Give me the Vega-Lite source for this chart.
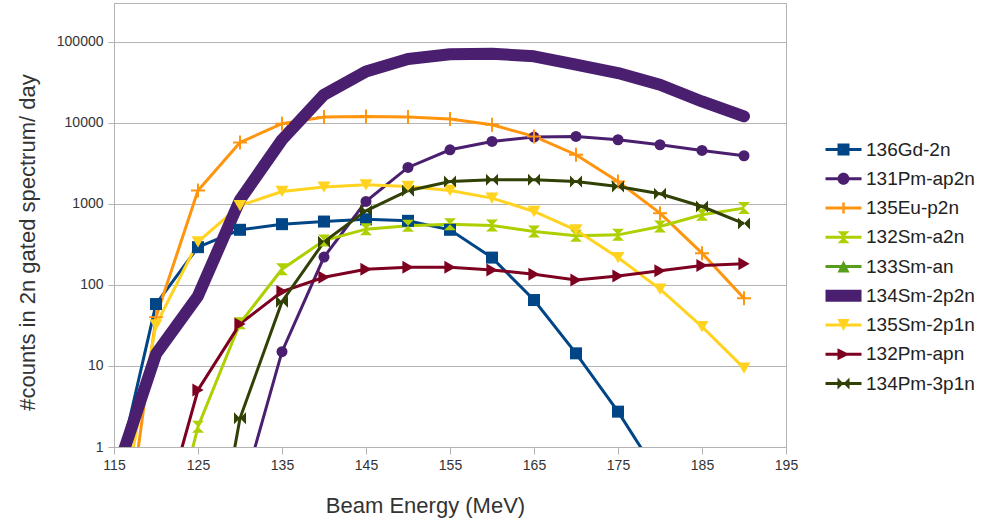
{
  "$schema": "https://vega.github.io/schema/vega-lite/v6.json",
  "width": 672,
  "height": 444,
  "autosize": {"type": "none"},
  "padding": {"left": 114, "top": 3, "right": 213, "bottom": 78},
  "background": "white",
  "config": {
    "font": "Liberation Sans",
    "view": {"stroke": "#b3b3b3", "strokeWidth": 1},
    "axis": {"labelFont": "Liberation Sans", "titleFont": "Liberation Sans", "labelColor": "#333333", "titleColor": "#333333", "titleFontWeight": "normal", "domainColor": "#b3b3b3", "tickColor": "#b3b3b3", "gridColor": "#b3b3b3", "labelFontSize": 14, "titleFontSize": 22},
    "legend": {"labelFont": "Liberation Sans", "labelFontSize": 19, "labelColor": "#222222", "labelOffset": 25, "rowPadding": 9.25, "symbolSize": 144, "symbolStrokeWidth": 0, "symbolOpacity": 1, "labelLimit": 300, "padding": 0}
  },
  "datasets": {
    "pts": [
      {"series": "136Gd-2n", "E": 115, "v": 0.32},
      {"series": "136Gd-2n", "E": 120, "v": 58},
      {"series": "136Gd-2n", "E": 125, "v": 292},
      {"series": "136Gd-2n", "E": 130, "v": 478},
      {"series": "136Gd-2n", "E": 135, "v": 561},
      {"series": "136Gd-2n", "E": 140, "v": 604},
      {"series": "136Gd-2n", "E": 145, "v": 644},
      {"series": "136Gd-2n", "E": 150, "v": 617},
      {"series": "136Gd-2n", "E": 155, "v": 478},
      {"series": "136Gd-2n", "E": 160, "v": 217},
      {"series": "136Gd-2n", "E": 165, "v": 65},
      {"series": "136Gd-2n", "E": 170, "v": 14.3},
      {"series": "136Gd-2n", "E": 175, "v": 2.73},
      {"series": "136Gd-2n", "E": 180, "v": 0.42},
      {"series": "131Pm-ap2n", "E": 130, "v": 0.22},
      {"series": "131Pm-ap2n", "E": 135, "v": 15},
      {"series": "131Pm-ap2n", "E": 140, "v": 220},
      {"series": "131Pm-ap2n", "E": 145, "v": 1070},
      {"series": "131Pm-ap2n", "E": 150, "v": 2810},
      {"series": "131Pm-ap2n", "E": 155, "v": 4640},
      {"series": "131Pm-ap2n", "E": 160, "v": 5880},
      {"series": "131Pm-ap2n", "E": 165, "v": 6660},
      {"series": "131Pm-ap2n", "E": 170, "v": 6780},
      {"series": "131Pm-ap2n", "E": 175, "v": 6170},
      {"series": "131Pm-ap2n", "E": 180, "v": 5350},
      {"series": "131Pm-ap2n", "E": 185, "v": 4550},
      {"series": "131Pm-ap2n", "E": 190, "v": 3915},
      {"series": "135Eu-p2n", "E": 115, "v": 0.006},
      {"series": "135Eu-p2n", "E": 120, "v": 40},
      {"series": "135Eu-p2n", "E": 125, "v": 1460},
      {"series": "135Eu-p2n", "E": 130, "v": 5710},
      {"series": "135Eu-p2n", "E": 135, "v": 9720},
      {"series": "135Eu-p2n", "E": 140, "v": 11750},
      {"series": "135Eu-p2n", "E": 145, "v": 11970},
      {"series": "135Eu-p2n", "E": 150, "v": 11750},
      {"series": "135Eu-p2n", "E": 155, "v": 11100},
      {"series": "135Eu-p2n", "E": 160, "v": 9440},
      {"series": "135Eu-p2n", "E": 165, "v": 6780},
      {"series": "135Eu-p2n", "E": 170, "v": 4030},
      {"series": "135Eu-p2n", "E": 175, "v": 1885},
      {"series": "135Eu-p2n", "E": 180, "v": 767},
      {"series": "135Eu-p2n", "E": 185, "v": 246},
      {"series": "135Eu-p2n", "E": 190, "v": 68.5},
      {"series": "132Sm-a2n", "E": 120, "v": 0.015},
      {"series": "132Sm-a2n", "E": 125, "v": 1.78},
      {"series": "132Sm-a2n", "E": 130, "v": 33.6},
      {"series": "132Sm-a2n", "E": 135, "v": 156},
      {"series": "132Sm-a2n", "E": 140, "v": 352},
      {"series": "132Sm-a2n", "E": 145, "v": 487},
      {"series": "132Sm-a2n", "E": 150, "v": 535},
      {"series": "132Sm-a2n", "E": 155, "v": 560},
      {"series": "132Sm-a2n", "E": 160, "v": 540},
      {"series": "132Sm-a2n", "E": 165, "v": 455},
      {"series": "132Sm-a2n", "E": 170, "v": 403},
      {"series": "132Sm-a2n", "E": 175, "v": 414},
      {"series": "132Sm-a2n", "E": 180, "v": 525},
      {"series": "132Sm-a2n", "E": 185, "v": 731},
      {"series": "132Sm-a2n", "E": 190, "v": 885},
      {"series": "134Sm-2p2n", "E": 115, "v": 0.39},
      {"series": "134Sm-2p2n", "E": 120, "v": 14},
      {"series": "134Sm-2p2n", "E": 125, "v": 73},
      {"series": "134Sm-2p2n", "E": 130, "v": 1120},
      {"series": "134Sm-2p2n", "E": 135, "v": 6170},
      {"series": "134Sm-2p2n", "E": 140, "v": 22200},
      {"series": "134Sm-2p2n", "E": 145, "v": 43000},
      {"series": "134Sm-2p2n", "E": 150, "v": 61100},
      {"series": "134Sm-2p2n", "E": 155, "v": 70000},
      {"series": "134Sm-2p2n", "E": 160, "v": 71000},
      {"series": "134Sm-2p2n", "E": 165, "v": 65900},
      {"series": "134Sm-2p2n", "E": 170, "v": 52000},
      {"series": "134Sm-2p2n", "E": 175, "v": 41000},
      {"series": "134Sm-2p2n", "E": 180, "v": 29400},
      {"series": "134Sm-2p2n", "E": 185, "v": 18300},
      {"series": "134Sm-2p2n", "E": 190, "v": 12000},
      {"series": "135Sm-2p1n", "E": 115, "v": 0.05},
      {"series": "135Sm-2p1n", "E": 120, "v": 32},
      {"series": "135Sm-2p1n", "E": 125, "v": 340},
      {"series": "135Sm-2p1n", "E": 130, "v": 950},
      {"series": "135Sm-2p1n", "E": 135, "v": 1420},
      {"series": "135Sm-2p1n", "E": 140, "v": 1607},
      {"series": "135Sm-2p1n", "E": 145, "v": 1717},
      {"series": "135Sm-2p1n", "E": 150, "v": 1636},
      {"series": "135Sm-2p1n", "E": 155, "v": 1460},
      {"series": "135Sm-2p1n", "E": 160, "v": 1176},
      {"series": "135Sm-2p1n", "E": 165, "v": 804},
      {"series": "135Sm-2p1n", "E": 170, "v": 475},
      {"series": "135Sm-2p1n", "E": 175, "v": 217},
      {"series": "135Sm-2p1n", "E": 180, "v": 88.5},
      {"series": "135Sm-2p1n", "E": 185, "v": 30.6},
      {"series": "135Sm-2p1n", "E": 190, "v": 9.4},
      {"series": "132Pm-apn", "E": 120, "v": 0.07},
      {"series": "132Pm-apn", "E": 125, "v": 5.05},
      {"series": "132Pm-apn", "E": 130, "v": 33},
      {"series": "132Pm-apn", "E": 135, "v": 82.7},
      {"series": "132Pm-apn", "E": 140, "v": 124},
      {"series": "132Pm-apn", "E": 145, "v": 156},
      {"series": "132Pm-apn", "E": 150, "v": 165},
      {"series": "132Pm-apn", "E": 155, "v": 165},
      {"series": "132Pm-apn", "E": 160, "v": 153},
      {"series": "132Pm-apn", "E": 165, "v": 135},
      {"series": "132Pm-apn", "E": 170, "v": 115},
      {"series": "132Pm-apn", "E": 175, "v": 129},
      {"series": "132Pm-apn", "E": 180, "v": 149},
      {"series": "132Pm-apn", "E": 185, "v": 173},
      {"series": "132Pm-apn", "E": 190, "v": 182},
      {"series": "134Pm-3p1n", "E": 125, "v": 0.003},
      {"series": "134Pm-3p1n", "E": 130, "v": 2.26},
      {"series": "134Pm-3p1n", "E": 135, "v": 62},
      {"series": "134Pm-3p1n", "E": 140, "v": 340},
      {"series": "134Pm-3p1n", "E": 145, "v": 820},
      {"series": "134Pm-3p1n", "E": 150, "v": 1450},
      {"series": "134Pm-3p1n", "E": 155, "v": 1885},
      {"series": "134Pm-3p1n", "E": 160, "v": 1980},
      {"series": "134Pm-3p1n", "E": 165, "v": 1980},
      {"series": "134Pm-3p1n", "E": 170, "v": 1885},
      {"series": "134Pm-3p1n", "E": 175, "v": 1636},
      {"series": "134Pm-3p1n", "E": 180, "v": 1330},
      {"series": "134Pm-3p1n", "E": 185, "v": 926},
      {"series": "134Pm-3p1n", "E": 190, "v": 570}
    ],
    "legendrows": [
      {"series": "136Gd-2n"},
      {"series": "131Pm-ap2n"},
      {"series": "135Eu-p2n"},
      {"series": "132Sm-a2n"},
      {"series": "133Sm-an"},
      {"series": "134Sm-2p2n"},
      {"series": "135Sm-2p1n"},
      {"series": "132Pm-apn"},
      {"series": "134Pm-3p1n"}
    ]
  },
  "data": {"name": "pts"},
  "encoding": {
    "x": {
      "field": "E", "type": "quantitative",
      "scale": {"domain": [115, 195], "nice": false, "zero": false},
      "axis": {"title": "Beam Energy (MeV)", "values": [115, 125, 135, 145, 155, 165, 175, 185, 195], "grid": false, "tickSize": 7, "labelPadding": 4, "labelFlush": false, "titleX": 311, "titleY": 58, "titleBaseline": "middle", "titleAlign": "center"}
    },
    "y": {
      "field": "v", "type": "quantitative",
      "scale": {"type": "log", "domain": [1, 300000], "nice": false},
      "axis": {"title": "#counts in 2n gated spectrum/ day", "values": [1, 10, 100, 1000, 10000, 100000], "format": "d", "grid": true, "tickSize": 6, "labelPadding": 5, "labelOverlap": false, "labelFlush": false, "titleX": -87, "titleY": 239, "titleAngle": -90, "titleAlign": "center", "titleBaseline": "middle"}
    }
  },
  "layer": [
    {
      "transform": [{"filter": "datum.series !== '134Sm-2p2n'"}],
      "mark": {"type": "line", "strokeWidth": 3, "clip": true},
      "encoding": {
        "stroke": {"field": "series", "type": "nominal", "legend": null,
          "scale": {"domain": ["136Gd-2n", "131Pm-ap2n", "135Eu-p2n", "132Sm-a2n", "135Sm-2p1n", "132Pm-apn", "134Pm-3p1n"],
                    "range": ["#004586", "#4b1f6f", "#ff950e", "#aecf00", "#ffd320", "#7e0021", "#314004"]}}
      }
    },
    {
      "transform": [{"filter": "datum.series === '134Sm-2p2n'"}],
      "mark": {"type": "line", "strokeWidth": 12, "strokeCap": "round", "strokeJoin": "round", "clip": true, "stroke": "#4b1f6f"},
      "encoding": {}
    },
    {
      "transform": [{"filter": "datum.series === '136Gd-2n'"}],
      "mark": {"type": "point", "shape": "square", "filled": true, "size": 144, "opacity": 1, "clip": true, "color": "#004586"},
      "encoding": {}
    },
    {
      "transform": [{"filter": "datum.series === '131Pm-ap2n'"}],
      "mark": {"type": "point", "shape": "circle", "filled": true, "size": 121, "opacity": 1, "clip": true, "color": "#4b1f6f"},
      "encoding": {}
    },
    {
      "transform": [{"filter": "datum.series === '135Eu-p2n'"}],
      "mark": {"type": "point", "shape": "M-1,-0.14H1V0.14H-1Z M-0.14,-1H0.14V1H-0.14Z", "filled": true, "size": 196, "opacity": 1, "clip": true, "color": "#ff950e"},
      "encoding": {}
    },
    {
      "transform": [{"filter": "datum.series === '132Sm-a2n'"}],
      "mark": {"type": "point", "shape": "M-1,-1H1L0,0L1,1H-1L0,0Z", "filled": true, "size": 144, "opacity": 1, "clip": true, "color": "#aecf00"},
      "encoding": {}
    },
    {
      "transform": [{"filter": "datum.series === '135Sm-2p1n'"}],
      "mark": {"type": "point", "shape": "triangle-down", "filled": true, "size": 170, "opacity": 1, "clip": true, "color": "#ffd320"},
      "encoding": {}
    },
    {
      "transform": [{"filter": "datum.series === '132Pm-apn'"}],
      "mark": {"type": "point", "shape": "triangle-right", "filled": true, "size": 170, "opacity": 1, "clip": true, "color": "#7e0021"},
      "encoding": {}
    },
    {
      "transform": [{"filter": "datum.series === '134Pm-3p1n'"}],
      "mark": {"type": "point", "shape": "M-1,-1L0,0L-1,1Z M1,-1L1,1L0,0Z", "filled": true, "size": 144, "opacity": 1, "clip": true, "color": "#314004"},
      "encoding": {}
    },
    {
      "data": {"name": "legendrows"},
      "mark": {"type": "point", "filled": true, "size": 144, "opacity": 1, "clip": true},
      "encoding": {
        "x": {"datum": 150, "type": "quantitative"},
        "y": {"datum": 0.01, "type": "quantitative"},
        "color": {"field": "series", "type": "nominal",
          "scale": {"domain": ["136Gd-2n", "131Pm-ap2n", "135Eu-p2n", "132Sm-a2n", "133Sm-an", "134Sm-2p2n", "135Sm-2p1n", "132Pm-apn", "134Pm-3p1n"],
                    "range": ["#004586", "#4b1f6f", "#ff950e", "#aecf00", "#579d1c", "#4b1f6f", "#ffd320", "#7e0021", "#314004"]},
          "legend": {"title": null, "orient": "none", "legendX": 708, "legendY": 137}},
        "shape": {"field": "series", "type": "nominal",
          "scale": {"domain": ["136Gd-2n", "131Pm-ap2n", "135Eu-p2n", "132Sm-a2n", "133Sm-an", "134Sm-2p2n", "135Sm-2p1n", "132Pm-apn", "134Pm-3p1n"],
                    "range": [
                      "M-1,-0.25H5V0.25H-1Z M1,-1H3V1H1Z",
                      "M-1,-0.25H5V0.25H-1Z M1,0A1,1 0 1,1 3,0A1,1 0 1,1 1,0Z",
                      "M-1,-0.25H5V0.25H-1Z M1.8,-0.9H2.2V0.9H1.8Z",
                      "M-1,-0.25H5V0.25H-1Z M1,-1H3L2,0L3,1H1L2,0Z",
                      "M-1,-0.25H5V0.25H-1Z M1,1L2,-1L3,1Z",
                      "M-1,-1H5V1H-1Z",
                      "M-1,-0.25H5V0.25H-1Z M1,-1H3L2,1Z",
                      "M-1,-0.25H5V0.25H-1Z M1,-1L3,0L1,1Z",
                      "M-1,-0.25H5V0.25H-1Z M1,-1L2,0L1,1Z M3,-1L3,1L2,0Z"
                    ]},
          "legend": {"title": null, "orient": "none", "legendX": 708, "legendY": 137}}
      }
    }
  ]
}
